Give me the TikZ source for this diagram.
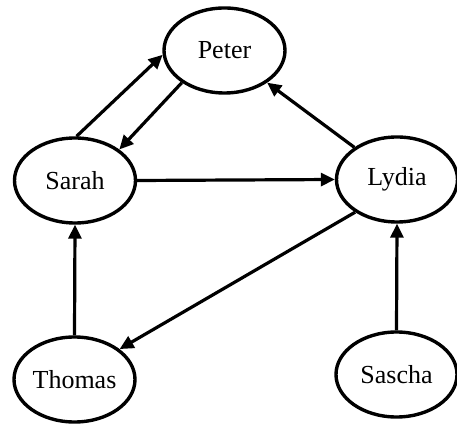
\documentclass[tikz,border=0pt]{standalone}
\usepackage{fontspec}
\setmainfont{Liberation Serif}
\usetikzlibrary{shapes.geometric,arrows.meta}
\begin{document}
\begin{tikzpicture}[x=1pt,y=1pt,
  person/.style={ellipse,draw,line width=3.4pt,minimum width=121pt,minimum height=85pt,inner sep=0pt,font=\fontsize{26}{30}\selectfont},
  link/.style={line width=3.2pt,-{Triangle[length=14pt,width=13pt]}}]
\useasboundingbox (0,0) rectangle (457,425);
\node[person] (peter)  at (224.5,374.5) {Peter};
\node[person] (sarah)  at (75,244.5) {Sarah};
\node[person] (lydia)  at (397,245.5) {Lydia};
\node[person] (thomas) at (74.5,45.5) {Thomas};
\node[person] (sascha) at (396.5,50.5) {Sascha};
\draw[link] (sarah.88) -- (peter.184);
\draw[link] (peter.217) -- (sarah.35.5);
\draw[link] (sarah.east) -- (lydia.west);
\draw[link] (lydia.143) -- (peter.323);
\draw[link] (lydia.218.6) -- (thomas.34.4);
\draw[link] (thomas.north) -- (sarah.south);
\draw[link] (sascha.north) -- (lydia.south);
\end{tikzpicture}
\end{document}
